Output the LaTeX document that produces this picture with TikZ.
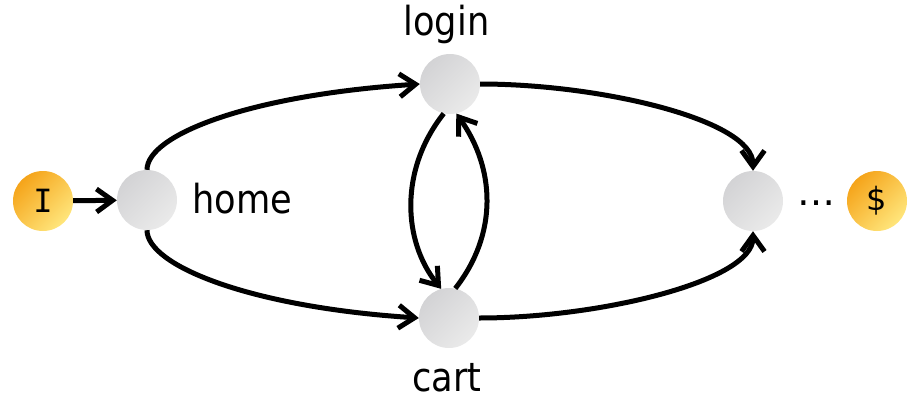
\documentclass[tikz,border=0pt]{standalone}
\usepackage{fontspec}
\setmainfont{DejaVu Sans}
\newfontfamily\labfont{DejaVu Sans}[FakeStretch=0.88]
\newfontfamily\monofont{DejaVu Sans Mono}
\usetikzlibrary{arrows.meta}
\definecolor{grayA}{HTML}{D3D3D5}
\definecolor{grayB}{HTML}{EAEAEA}
\definecolor{orA}{HTML}{F5A41A}
\definecolor{orB}{HTML}{FFE67C}
\tikzset{
  state/.style={circle, minimum size=60pt, inner sep=0pt, top color=grayA, bottom color=grayB, shading angle=45},
  term/.style={circle, minimum size=60pt, inner sep=0pt, top color=orA, bottom color=orB, shading angle=45},
  lab/.style={inner sep=0pt, font=\labfont\fontsize{40}{48}\selectfont},
  edge/.style={line width=5pt, -{Straight Barb[length=16pt,width=23pt]}},
}
\begin{document}
\begin{tikzpicture}[x=1pt, y=-1pt]
\useasboundingbox (0,0) rectangle (910,397);
\node[term] (I) at (43,201) {\monofont\fontsize{32}{38}\selectfont I};
\node[state] (home) at (147,200) {};
\node[state] (login) at (450,84) {};
\node[state] (cart) at (449,318) {};
\node[state] (fin) at (753,201) {};
\node[term] (pay) at (877,201) {\fontsize{32}{38}\selectfont\$};
\node[lab, anchor=base west] (homel) at (192,213) {home};
\node[lab, anchor=base] (loginl) at (446.5,35) {login};
\node[lab, anchor=base] (cartl) at (446.7,391) {cart};
\node[inner sep=0pt, anchor=base, font=\fontsize{38}{44}\selectfont] (dots) at (816.5,205) {…};
\draw[edge] (I) -- (home);
\draw[edge] (home.north) .. controls +(0,-35) and +(-170,11) .. (login.west);
\draw[edge] (home.south) .. controls +(0,35) and +(-170,-11) .. (cart.west);
\draw[edge] (login.east) .. controls +(120,0) and +(0,-51) .. (fin.north);
\draw[edge] (cart.east) .. controls +(120,0) and +(0,50) .. (fin.south);
\draw[edge] (login.258) .. controls +(-45,57) and +(-38,-47) .. (cart.105);
\draw[edge] (cart.78) .. controls +(43,-55) and +(39,55) .. (login.282);
\end{tikzpicture}
\end{document}
